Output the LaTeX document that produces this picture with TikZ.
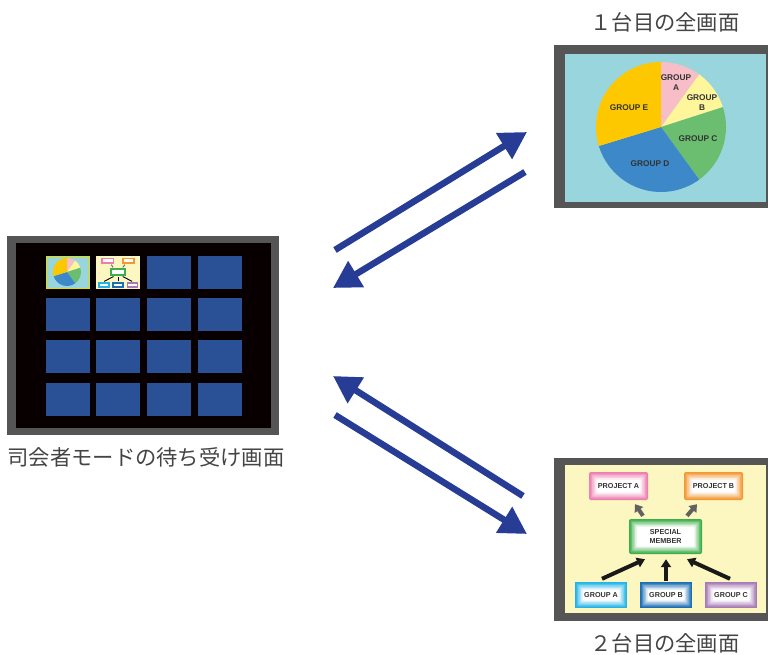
\documentclass[tikz,border=0pt]{standalone}
\usepackage{fontspec}
\setmainfont{Liberation Sans}
\newfontfamily\jpfont{Noto Sans CJK JP}
\usetikzlibrary{arrows.meta,calc}
\definecolor{frame}{HTML}{555555}
\definecolor{navy}{HTML}{263C95}
\definecolor{tileblue}{HTML}{2A5196}
\definecolor{sky}{HTML}{99D5DC}
\definecolor{pA}{HTML}{F7BEC8}
\definecolor{pB}{HTML}{FFF59B}
\definecolor{pC}{HTML}{6BBE70}
\definecolor{pD}{HTML}{3C88C9}
\definecolor{pE}{HTML}{FDC800}
\definecolor{cream}{HTML}{FCF6C0}
\definecolor{cPA}{HTML}{EE7DB0}
\definecolor{cPB}{HTML}{F39834}
\definecolor{cSM}{HTML}{3DAE4A}
\definecolor{cGA}{HTML}{22B4E8}
\definecolor{cGB}{HTML}{1B6EB4}
\definecolor{cGC}{HTML}{A67AB5}
\definecolor{txt}{HTML}{333333}
\definecolor{jptxt}{HTML}{444444}
\definecolor{thumbyellow}{HTML}{E6DC00}
\newcommand\pieslices[1]{%
  \fill[pA] (0,0) -- (54:#1) arc[start angle=54,end angle=90,radius=#1] -- cycle;
  \fill[pB] (0,0) -- (17.8:#1) arc[start angle=17.8,end angle=54,radius=#1] -- cycle;
  \fill[pC] (0,0) -- (-54:#1) arc[start angle=-54,end angle=17.8,radius=#1] -- cycle;
  \fill[pD] (0,0) -- (197:#1) arc[start angle=197,end angle=306,radius=#1] -- cycle;
  \fill[pE] (0,0) -- (90:#1) arc[start angle=90,end angle=197,radius=#1] -- cycle;
}
\tikzset{
  screenbox/.style={rectangle, inner sep=0pt, anchor=south west},
  tilebox/.style={rectangle, fill=tileblue, inner sep=0pt, minimum width=44pt, minimum height=33pt, anchor=south west},
  jplabel/.style={text=jptxt, font=\jpfont\fontsize{21.3pt}{24pt}\selectfont, inner sep=0pt},
  pielabel/.style={text=txt, font=\bfseries\fontsize{8.3pt}{10pt}\selectfont, align=center, inner sep=0pt},
  glow/.style={rectangle, fill=#1, inner sep=0pt, text=txt, align=center,
    font=\bfseries\fontsize{7.2pt}{8.6pt}\selectfont,
    path picture={
      \foreach \i/\c in {1.5/80,3/58,4.5/38,6/18,7.5/0} {
        \fill[#1!\c!white, rounded corners=1pt]
          ([shift={(\i pt,\i pt)}]path picture bounding box.south west) rectangle
          ([shift={(-\i pt,-\i pt)}]path picture bounding box.north east);
      }
    }},
  bigarrow/.style={draw=navy, line width=6.5pt, -{Triangle[length=27pt,width=29pt]}},
  grayarrow/.style={draw=black!62, line width=4pt, -{Triangle[length=7pt,width=10pt]}},
  blackarrow/.style={draw=black!90, line width=4pt, -{Triangle[length=8pt,width=10pt]}},
}
\begin{document}
\begin{tikzpicture}[x=1pt,y=1pt]
\useasboundingbox (0,0) rectangle (768,654);

% ---------- left monitor ----------
\node[screenbox, fill=frame, minimum width=272pt, minimum height=199pt] (lm) at (7,219) {};
\node[screenbox, fill=black!97!red, minimum width=255pt, minimum height=185pt] (lmscreen) at (16,226) {};
\foreach \c/\x in {1/46,2/96,3/147,4/198}{
  \foreach \r/\y in {1/365,2/323,3/281,4/238}{
    \node[tilebox] (t\r\c) at (\x,\y) {};
  }
}
% thumbnail 1: pie chart
\begin{scope}[shift={(46,365)}]
  \fill[sky] (0,0) rectangle (44,33);
  \begin{scope}[shift={(21,17)}]
    \pieslices{14}
  \end{scope}
  \draw[thumbyellow, line width=1.3pt] (0.65,0.65) rectangle (43.35,32.35);
\end{scope}
% thumbnail 2: org chart
\begin{scope}[shift={(96,365)}, x=0.219pt, y=0.223pt]
  \fill[cream] (0,0) rectangle (201,148);
  \foreach \xa/\ya/\xb/\yb/\col in {24/113/83/141/cPA, 119/113/178/141/cPB, 64/59/137/94/cSM, 10/5/62/31/cGA, 75/5/127/31/cGB, 140/5/192/31/cGC}{
    \fill[\col] (\xa,\ya) rectangle (\xb,\yb);
    \fill[white] (\xa+7,\ya+7) rectangle (\xb-7,\yb-7);
  }
  \draw[black!60, line width=0.9pt] (78,97) -- (70,109);
  \draw[black!60, line width=0.9pt] (122,97) -- (132,109);
  \draw[black, line width=0.9pt] (37,34) -- (80,56);
  \draw[black, line width=0.9pt] (101,34) -- (101,56);
  \draw[black, line width=0.9pt] (165,34) -- (122,56);
\end{scope}
\node[jplabel] (lmlabel) at (146,197) {司会者モードの待ち受け画面};

% ---------- top-right monitor ----------
\node[screenbox, fill=frame, minimum width=214pt, minimum height=163pt] (tm) at (554,446) {};
\node[screenbox, fill=sky, minimum width=201pt, minimum height=148pt] (tmscreen) at (565,452) {};
\begin{scope}[shift={(661,527)}]
  \pieslices{65}
  \node[pielabel] (lblA) at (15,44) {GROUP\\A};
  \node[pielabel] (lblB) at (41,24) {GROUP\\B};
  \node[pielabel] (lblC) at (37,-12) {GROUP C};
  \node[pielabel] (lblD) at (-11,-37) {GROUP D};
  \node[pielabel] (lblE) at (-32,19) {GROUP E};
\end{scope}
\node[jplabel] (tmlabel) at (665,632) {１台目の全画面};

% ---------- bottom-right monitor ----------
\node[screenbox, fill=frame, minimum width=214pt, minimum height=163pt] (bm) at (554,33) {};
\node[screenbox, fill=cream, minimum width=201pt, minimum height=148pt] (bmscreen) at (565,41) {};
\node[glow=cPA, rounded corners=2pt, minimum width=59pt, minimum height=28pt] (pa) at (618.5,168) {PROJECT A};
\node[glow=cPB, rounded corners=2pt, minimum width=59pt, minimum height=28pt] (pb) at (713.5,168) {PROJECT B};
\node[glow=cSM, rounded corners=2pt, minimum width=73pt, minimum height=35pt] (sm) at (665.5,117.5) {SPECIAL\\MEMBER};
\node[glow=cGA, minimum width=52pt, minimum height=26pt] (ga) at (601,59) {GROUP A};
\node[glow=cGB, minimum width=52pt, minimum height=26pt] (gb) at (666,59) {GROUP B};
\node[glow=cGC, minimum width=52pt, minimum height=26pt] (gc) at (731,59) {GROUP C};
\draw[grayarrow] ($(sm.north)+(-22.5,3)$) -- ($(pa.south)+(16.5,-4)$);
\draw[grayarrow] ($(sm.north)+(21.5,3)$) -- ($(pb.south)+(-16.5,-4)$);
\draw[blackarrow] ($(ga.north)+(1,3)$) -- ($(sm.south)+(-20.5,-5)$);
\draw[blackarrow] ($(gb.north)+(0,1)$) -- ($(sm.south)+(0.5,-5)$);
\draw[blackarrow] ($(gc.north)+(-1,3)$) -- ($(sm.south)+(21.5,-5)$);
\node[jplabel] (bmlabel) at (665,11) {２台目の全画面};

% ---------- big arrows ----------
\coordinate (a1s) at (335,404);
\coordinate (a1e) at (527,522);
\coordinate (a2s) at (525,482);
\coordinate (a2e) at (333,366);
\coordinate (a3s) at (523,158);
\coordinate (a3e) at (333,278);
\coordinate (a4s) at (335,239);
\coordinate (a4e) at (527,120);
\draw[bigarrow] (a1s) -- (a1e);
\draw[bigarrow] (a2s) -- (a2e);
\draw[bigarrow] (a3s) -- (a3e);
\draw[bigarrow] (a4s) -- (a4e);
\end{tikzpicture}
\end{document}
